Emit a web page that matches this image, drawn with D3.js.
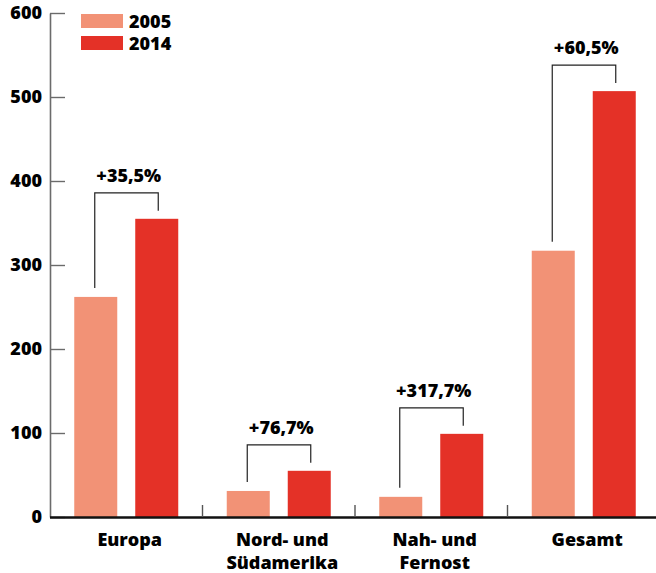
<!DOCTYPE html>
<html>
<head>
<meta charset="utf-8">
<script src="https://cdn.jsdelivr.net/npm/d3@7"></script>
<style>
  html, body { margin: 0; padding: 0; background: #fff; }
  svg text { font-family: "Open Sans", sans-serif; font-weight: 800; fill: #000; }
</style>
</head>
<body>
<svg id="chart" width="656" height="573"></svg>
<script>
const categories = [["Europa"], ["Nord- und", "Südamerika"], ["Nah- und", "Fernost"], ["Gesamt"]];
const series = ["2005", "2014"];
const values2005 = [262, 31, 24, 317];
const values2014 = [355, 55, 99, 507];
const changeLabels = ["+35,5%", "+76,7%", "+317,7%", "+60,5%"];
const yTicks = [0, 100, 200, 300, 400, 500, 600];
const colors = ["#f29276", "#e43127"];

const svg = d3.select("#chart");
const W = 656, H = 573;
const x0 = 50, x1 = 660, yTop = 13, yBase = 517;
const FS = "18px";

const catIdx = categories.map((d, i) => i);
const x = d3.scaleBand().domain(catIdx).range([x0, x1]).padding(0);
const xs = d3.scaleBand().domain(series).range([-52, 52]).paddingInner(0.295).paddingOuter(0);
const y = d3.scaleLinear().domain([0, 600]).range([yBase, yTop]);
const color = d3.scaleOrdinal().domain(series).range(colors);

// Y axis
const yAxis = d3.axisLeft(y).tickValues(yTicks).tickSizeInner(-15).tickSizeOuter(0).tickPadding(8).tickFormat(d3.format("d"));
const gy = svg.append("g").attr("transform", `translate(${x0},0)`).call(yAxis);
gy.select(".domain").attr("stroke", "#6b6b6b").attr("stroke-width", 1.6);
gy.selectAll(".tick line").attr("stroke", "#6b6b6b").attr("stroke-width", 1.4);
gy.selectAll(".tick text").style("font-size", FS).style("font-family", "'Open Sans', sans-serif").style("font-weight", 800).attr("fill", "#000");

// Bars
const data = catIdx.map(i => ({ i, v: [values2005[i], values2014[i]] }));
const groups = svg.append("g").selectAll("g").data(data).join("g")
  .attr("transform", d => `translate(${x(d.i) + x.bandwidth() / 2},0)`);
groups.selectAll("rect").data(d => series.map((s, k) => ({ s, v: d.v[k] }))).join("rect")
  .attr("x", d => xs(d.s))
  .attr("width", xs.bandwidth())
  .attr("y", d => y(d.v))
  .attr("height", d => y(0) - y(d.v))
  .attr("fill", d => color(d.s));

// Brackets and change labels
groups.each(function(d) {
  const g = d3.select(this);
  const xl = xs("2005") + xs.bandwidth() / 2 - 1;
  const xr = xs("2014") + xs.bandwidth() / 2 + 1.5;
  const top2014 = y(d.v[1]);
  const top2005 = y(d.v[0]);
  const hy = top2014 - 26;
  g.append("path")
    .attr("d", `M${xl},${top2005 - 9}V${hy}H${xr}V${top2014 - 8}`)
    .attr("fill", "none").attr("stroke", "#222").attr("stroke-width", 1.2);
  g.append("text")
    .attr("x", 2.5).attr("y", hy - 11)
    .attr("text-anchor", "middle")
    .style("font-size", FS)
    .text(changeLabels[d.i]);
});

// Baseline
svg.append("line").attr("x1", x0).attr("x2", W).attr("y1", yBase + 0.5).attr("y2", yBase + 0.5)
  .attr("stroke", "#111").attr("stroke-width", 2.6);

// Category separators
svg.append("g").selectAll("line").data(catIdx.slice(1)).join("line")
  .attr("x1", i => x(i)).attr("x2", i => x(i))
  .attr("y1", yBase - 12).attr("y2", yBase)
  .attr("stroke", "#555").attr("stroke-width", 1.4);

// Category labels
const cx = d => x(d.i) + x.bandwidth() / 2 + 3.5;
const cl = svg.append("g").selectAll("text").data(data).join("text")
  .attr("x", cx)
  .attr("y", 546)
  .attr("text-anchor", "middle")
  .style("font-size", FS);
cl.each(function(d) {
  const t = d3.select(this);
  categories[d.i].forEach((line, k) => {
    t.append("tspan").attr("x", cx(d)).attr("y", 546 + k * 23).text(line);
  });
});

// Legend
const lg = svg.append("g").selectAll("g").data(series).join("g")
  .attr("transform", (d, i) => `translate(81,${14 + i * 22})`);
lg.append("rect").attr("width", 42).attr("height", 14).attr("fill", d => color(d));
lg.append("text").attr("x", 48).attr("y", 13.5).style("font-size", FS).text(d => d);
</script>
</body>
</html>
